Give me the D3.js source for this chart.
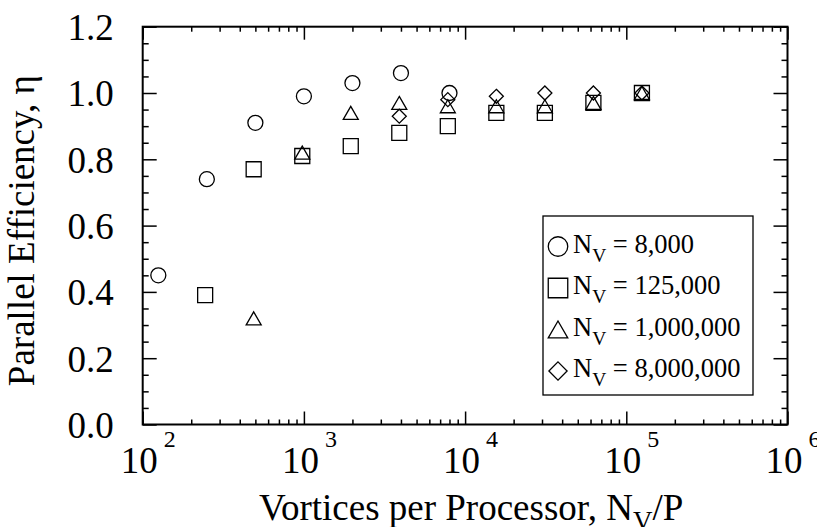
<!DOCTYPE html>
<html>
<head>
<meta charset="utf-8">
<script src="https://cdn.jsdelivr.net/npm/d3@7"></script>
<style>
  body { margin: 0; background: #fff; }
</style>
</head>
<body>
<div id="chart"></div>
<script>

// values

var seriesNames = ["8,000", "125,000", "1,000,000", "8,000,000"];
var seriesShapes = ["circle", "square", "triangle", "diamond"];

var circleX = [125, 250, 500, 1000, 2000, 4000, 8000];
var circleY = [0.45, 0.74, 0.91, 0.99, 1.03, 1.06, 1.00];

var squareX = [244, 488, 977, 1953, 3906, 7812, 15625, 31250, 62500, 125000];
var squareY = [0.39, 0.77, 0.81, 0.84, 0.88, 0.90, 0.94, 0.94, 0.97, 1.00];

var triangleX = [488, 977, 1953, 3906, 7812, 15625, 31250, 62500, 125000];
var triangleY = [0.32, 0.82, 0.94, 0.97, 0.96, 0.96, 0.96, 0.97, 1.00];

var diamondX = [3906, 7812, 15625, 31250, 62500, 125000];
var diamondY = [0.93, 0.98, 0.99, 1.00, 1.00, 1.00];

var xTickExps = [2, 3, 4, 5, 6];
var yTickLabels = ["0.0", "0.2", "0.4", "0.6", "0.8", "1.0", "1.2"];

// initial settings

var svgWidth = 817;
var svgHeight = 527;
var serif = "'Liberation Serif', Tinos, 'Times New Roman', Times, 'DejaVu Serif', serif";

var margin = { top: 26.7, right: 29.5, bottom: 102.5, left: 142.7 };

var width = svgWidth - margin.left - margin.right;
var height = svgHeight - margin.top - margin.bottom;

var svg = d3.select("#chart")
  .append("svg")
  .attr("width", svgWidth)
  .attr("height", svgHeight)
  .attr("font-family", serif);

var chart = svg.append("g")
  .attr("transform", `translate(${margin.left}, ${margin.top})`);

// scales

var x = d3.scaleLog().domain([100, 1e6]).range([0, width]);
var y = d3.scaleLinear().domain([0, 1.2]).range([height, 0]);

var xMajor = xTickExps.map(e => Math.pow(10, e));
var xMinor = [];
xTickExps.slice(0, -1).forEach(e => {
  for (var k = 2; k <= 9; k++) xMinor.push(k * Math.pow(10, e));
});
var yMajor = yTickLabels.map(d => +d);
var yMinor = d3.range(0, 25).map(i => i * 0.05).filter(v => Math.abs(v / 0.2 - Math.round(v / 0.2)) > 1e-6);

// ticks pointing inward on all four sides

function tickGroup(axis, tr) {
  var g = chart.append("g").attr("transform", tr).call(axis);
  g.select(".domain").remove();
  g.selectAll(".tick line").attr("stroke", "#000").attr("stroke-width", 1.5);
  g.selectAll(".tick text").remove();
  return g;
}

tickGroup(d3.axisBottom(x).tickValues(xMinor).tickSize(-5), `translate(0, ${height})`);
tickGroup(d3.axisBottom(x).tickValues(xMajor).tickSize(-13), `translate(0, ${height})`);
tickGroup(d3.axisTop(x).tickValues(xMinor).tickSize(-5), "translate(0, 0)");
tickGroup(d3.axisTop(x).tickValues(xMajor).tickSize(-13), "translate(0, 0)");
tickGroup(d3.axisLeft(y).tickValues(yMinor).tickSize(-6), "translate(0, 0)");
tickGroup(d3.axisLeft(y).tickValues(yMajor).tickSize(-14), "translate(0, 0)");
tickGroup(d3.axisRight(y).tickValues(yMinor).tickSize(-6), `translate(${width}, 0)`);
tickGroup(d3.axisRight(y).tickValues(yMajor).tickSize(-14), `translate(${width}, 0)`);

// frame

chart.append("rect")
  .attr("width", width)
  .attr("height", height)
  .attr("fill", "none")
  .attr("stroke", "#000")
  .attr("stroke-width", 2);

// tick labels

chart.selectAll(".ylab")
  .data(yTickLabels)
  .enter()
  .append("text")
  .attr("class", "ylab")
  .attr("x", -29)
  .attr("y", d => y(+d))
  .attr("dy", "0.36em")
  .attr("text-anchor", "end")
  .attr("font-family", serif)
  .attr("font-size", 37)
  .text(d => d);

var xlab = chart.selectAll(".xlab")
  .data(xTickExps)
  .enter()
  .append("text")
  .attr("class", "xlab")
  .attr("x", d => x(Math.pow(10, d)) - 22)
  .attr("y", height + 48.5)
  .attr("font-family", serif)
  .attr("font-size", 37);

xlab.append("tspan").text("10");
xlab.append("tspan")
  .attr("dx", 6)
  .attr("dy", -26)
  .attr("font-size", 24)
  .text(d => d);

// axis titles

var xt = svg.append("text")
  .attr("x", margin.left + width / 2 + 6)
  .attr("y", 520)
  .attr("text-anchor", "middle")
  .attr("font-family", serif)
  .attr("font-size", 37);
xt.append("tspan").text("Vortices per Processor, N");
xt.append("tspan").attr("font-size", 27).attr("dy", 10).text("V");
xt.append("tspan").attr("dy", -10).text("/P");

svg.append("text")
  .attr("transform", `translate(34, ${margin.top + height / 2 + 5}) rotate(-90)`)
  .attr("text-anchor", "middle")
  .attr("font-family", serif)
  .attr("font-size", 37)
  .text("Parallel Efficiency, \u03b7");

// markers

function markerPath(shape) {
  if (shape === "circle") {
    return "M7.5,0A7.5,7.5 0 1,1 -7.5,0A7.5,7.5 0 1,1 7.5,0Z";
  } else if (shape === "square") {
    return "M-7.5,-7.5H7.5V7.5H-7.5Z";
  } else if (shape === "triangle") {
    return "M0,-6.5L7.5,6.5H-7.5Z";
  }
  return "M0,-7L7,0L0,7L-7,0Z";
}

var seriesX = [circleX, squareX, triangleX, diamondX];
var seriesY = [circleY, squareY, triangleY, diamondY];

seriesShapes.forEach(function (shape, s) {
  var pts = seriesX[s].map((v, i) => [v, seriesY[s][i]]);
  chart.append("g")
    .selectAll("path")
    .data(pts)
    .enter()
    .append("path")
    .attr("d", markerPath(shape))
    .attr("transform", d => `translate(${x(d[0])}, ${y(d[1])})`)
    .attr("fill", "none")
    .attr("stroke", "#000")
    .attr("stroke-width", 1.3);
});

// legend

var legend = svg.append("g");

legend.append("rect")
  .attr("x", 543)
  .attr("y", 216)
  .attr("width", 210)
  .attr("height", 179)
  .attr("fill", "#fff")
  .attr("stroke", "#000")
  .attr("stroke-width", 1.3);

var rows = legend.selectAll(".row")
  .data(seriesNames)
  .enter()
  .append("g")
  .attr("transform", (d, i) => `translate(0, ${252.5 + i * 41.5})`);

rows.append("path")
  .attr("d", (d, i) => markerPath(seriesShapes[i]))
  .attr("transform", "translate(558, -6) scale(1.3)")
  .attr("fill", "none")
  .attr("stroke", "#000")
  .attr("stroke-width", 1);

var lt = rows.append("text")
  .attr("x", 573)
  .attr("y", 0)
  .attr("font-family", serif)
  .attr("font-size", 26.5);
lt.append("tspan").text("N");
lt.append("tspan").attr("font-size", 19.5).attr("dy", 9).text("V");
lt.append("tspan").attr("dy", -9).text(d => " = " + d);

</script>
</body>
</html>
